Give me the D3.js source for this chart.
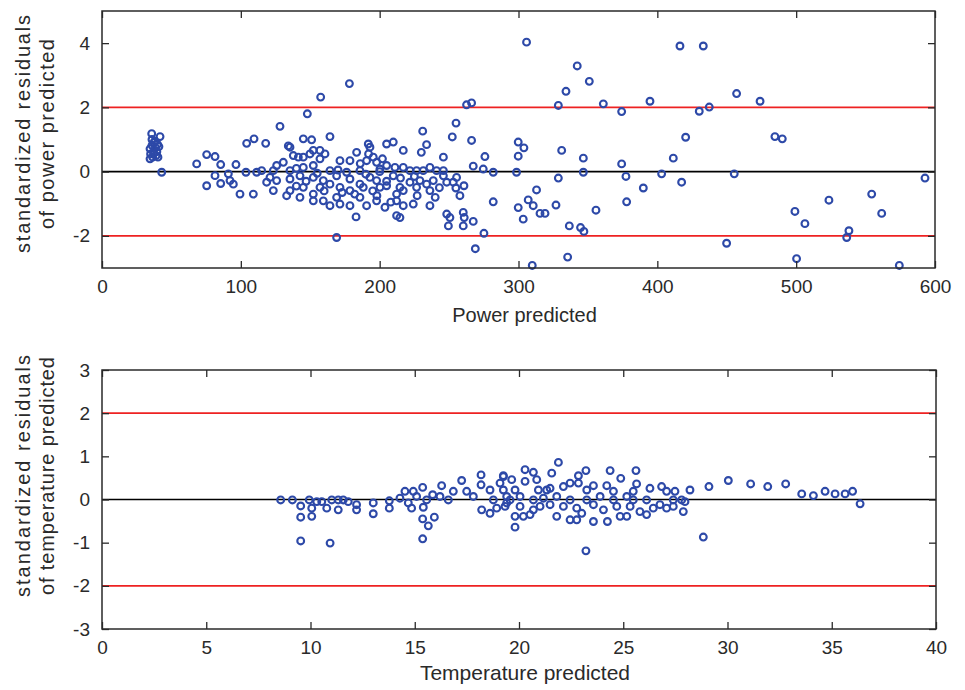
<!DOCTYPE html>
<html><head><meta charset="utf-8">
<script src="https://cdn.jsdelivr.net/npm/d3@7"></script>
<style>body{margin:0;background:#fff}svg{display:block}</style>
</head><body>
<script>
// ---------- DATA ----------
const powerX = [
35.8,41.8,34.6,36,37.5,38.5,40,35,37,39.5,41,34.6,36.5,40.3,38,43,36,39,
68.2,75.4,81.4,85.5,75.4,81.4,85.5,91,92.2,94.6,96.5,99.4,104.2,109.5,103.7,109,117.9,111.4,115,118.6,
128.2,145,151,164.2,134.2,135.4,152.2,157,160.6,183.4,191.8,193,205,209.8,217,231,233.8,245.9,
137.8,141.4,145,149.8,157,130.6,125.8,171.4,178.6,190.6,195.4,197.8,205,211,221.8,226.6,231.4,236.2,241,245.9,
123.4,135.4,145,152.2,164.2,176.2,185.8,200.2,217,
121,125.8,135.4,142.6,152.2,159.4,169,178.6,185.8,193,197.8,209.8,214.6,221.8,229,233.8,238.6,245.9,248.3,
123.4,135.4,145,157,164.2,171.4,178.6,188.2,200.2,205,217,226.6,236.2,
133,142.6,152.2,159.4,164.2,169,171.4,178.6,185.8,190.6,197.8,203.8,212.2,212.2,217,224.2,236.2,152.2,
183,212.2,214.6,248.3,249.5,169,
140,155,170,190,200,205,215,225,195,198,182,173,160,147,140,208,192,186,202,230,227,240,243,
178.2,157.5,147.9,
305.8,342.3,351,334.2,262.6,266.2,328.7,361.1,374.3,394.7,255,252.3,266.2,299.8,303.9,299.8,331.1,346.7,374.3,377.4,
389.9,377.9,355.8,346.7,328.7,313,327,307,310.6,299.8,303.4,315.5,319.1,336.6,344.7,347.1,275.1,268.9,335.4,309.9,
281.8,275.8,267.4,274.6,281.8,298.6,260.7,254.9,257.8,260.2,260.9,250.6,260.2,267.4,255.4,253,
416.3,433.1,457.1,474,430.2,437.4,420.4,484.7,490,411.5,403.1,417.5,455.4,592.8,554.4,523.6,561.6,499.1,506.3,538,536.4,449.9,500.3,574.3
];
const powerResid = [
1.18,1.09,0.71,0.82,0.9,0.75,0.85,0.55,0.6,0.62,0.78,0.4,0.45,0.45,0.95,-0.02,1.0,0.5,
0.24,0.53,0.47,0.22,-0.44,-0.125,-0.37,-0.07,-0.28,-0.39,0.22,-0.70,0.88,1.02,-0.02,-0.70,0.88,-0.02,0.03,-0.33,
1.41,1.02,0.99,1.09,0.80,0.76,0.66,0.66,0.55,0.60,0.86,0.76,0.86,0.92,0.66,1.26,0.84,0.45,
0.50,0.45,0.45,0.55,0.40,0.29,0.19,0.34,0.34,0.34,0.45,0.29,0.19,0.13,0.03,0.03,0.03,0.13,0.03,0.03,
0.03,0.03,0.13,0.19,0.03,-0.02,0.03,0.08,0.13,
-0.18,-0.28,-0.23,-0.13,-0.18,-0.28,-0.13,-0.23,-0.39,-0.18,-0.28,-0.13,-0.49,-0.33,-0.28,-0.39,-0.28,-0.13,-0.33,
-0.59,-0.59,-0.49,-0.49,-0.39,-0.49,-0.59,-0.49,-0.49,-0.44,-0.59,-0.49,-0.59,
-0.75,-0.80,-0.70,-0.91,-1.06,-0.80,-1.01,-1.06,-0.80,-1.06,-0.91,-1.11,-0.70,-0.91,-1.06,-1.01,-1.06,-0.91,
-1.41,-1.37,-1.43,-1.32,-1.69,-2.05,
0.1,-0.05,0.05,-0.08,0.0,-0.3,-0.2,-0.15,-0.6,-0.75,-0.7,-0.65,-0.6,-0.3,-0.45,-0.95,0.55,0.25,0.4,0.6,-0.75,-0.8,-0.5,
2.74,2.32,1.80,
4.03,3.29,2.81,2.50,2.08,2.14,2.06,2.11,1.87,2.19,1.51,1.08,0.97,0.92,0.74,0.48,0.66,0.42,0.24,-0.15,
-0.51,-0.94,-1.20,-0.02,-0.20,-0.57,-1.04,-0.88,-1.06,-1.12,-1.48,-1.30,-1.30,-1.69,-1.74,-1.86,-1.92,-2.40,-2.66,-2.92,
-0.94,0.47,0.17,0.08,-0.02,-0.02,-0.44,-0.51,-0.75,-1.27,-1.43,-1.43,-1.69,-1.55,-0.18,-0.33,
3.91,3.91,2.43,2.19,1.88,2.01,1.07,1.09,1.02,0.42,-0.07,-0.33,-0.07,-0.20,-0.70,-0.89,-1.30,-1.24,-1.62,-1.84,-2.05,-2.23,-2.71,-2.92
];
const tempX = [
8.57,9.13,9.53,9.53,9.53,9.94,10.06,10.06,10.3,10.54,10.78,11.02,11.33,11.33,11.57,11.81,12.21,12.21,10.94,
13.01,13.01,13.78,13.78,14.53,14.93,15.38,14.85,15.41,15.38,15.65,15.94,15.38,16.29,
15.86,16.21,16.61,16.85,17.25,17.49,17.81,18.18,18.18,18.61,18.77,19.09,19.25,19.41,18.21,18.61,18.93,19.33,
14.29,15.09,15.57,14.69,
19.25,19.65,19.25,19.41,19.81,19.81,20.21,20.29,20.69,20.29,20.85,20.93,20.53,21.57,21.89,21.49,22.13,22.45,22.85,22.85,
23.21,23.57,23.57,23.21,24.21,24.24,24.37,24.88,25.61,25.64,26.28,26.84,27.08,27.48,27.8,27.96,28.2,27.88,28.84,
29.11,30.04,31.11,31.93,32.79,33.56,34.12,34.68,35.16,35.64,36.0,36.36,
19.57,20.05,20.05,20.69,21.01,21.17,21.49,21.81,22.13,22.45,22.77,23.01,23.25,23.57,23.89,24.05,24.53,24.69,24.85,
25.17,25.33,25.48,25.8,26.12,26.44,26.76,27.08,27.4,27.4,20.69,21.81,22.45,19.81,21.33,23.25,24.53,25.48,22.77,26.12,25.17
];
const tempResid = [
-0.01,-0.01,-0.15,-0.41,-0.96,-0.01,-0.20,-0.39,-0.05,-0.05,-0.20,-0.01,-0.01,-0.24,-0.01,-0.05,-0.12,-0.24,-1.01,
-0.08,-0.33,-0.03,-0.20,0.19,0.19,0.28,-0.20,-0.18,-0.45,-0.61,-0.41,-0.91,0.32,
0.11,0.07,-0.01,0.19,0.44,0.19,0.07,0.57,0.34,0.22,-0.01,0.38,0.55,0.07,-0.24,-0.32,-0.20,-0.16,
0.03,0.07,-0.01,-0.08,
0.53,0.46,0.22,-0.08,-0.39,-0.64,-0.39,0.69,0.63,0.42,0.46,0.22,-0.35,0.61,0.86,0.26,0.30,0.38,0.38,0.55,
0.67,0.32,-0.51,-1.19,0.32,-0.51,0.67,0.49,0.67,0.36,0.26,0.30,0.19,0.19,-0.01,-0.05,0.22,-0.28,-0.87,
0.30,0.44,0.36,0.30,0.36,0.13,0.09,0.19,0.13,0.13,0.19,-0.10,
-0.01,0.07,-0.16,-0.01,-0.16,0.03,-0.12,0.07,-0.16,-0.01,-0.20,-0.32,-0.01,-0.12,0.07,-0.24,-0.01,-0.16,-0.39,
0.07,-0.16,-0.01,-0.28,-0.01,-0.20,-0.12,-0.20,-0.16,-0.01,-0.24,-0.39,-0.47,0.22,0.22,0.22,0.19,0.19,-0.47,-0.35,-0.39
];
const powerXTicks = [0,100,200,300,400,500,600];
const powerYTicks = [-2,0,2,4];
const tempXTicks = [0,5,10,15,20,25,30,35,40];
const tempYTicks = [-3,-2,-1,0,1,2,3];
const limitLines = [-2,2];

// ---------- DRAW ----------
const W = 965, H = 690;
const svg = d3.select("body").append("svg").attr("width", W).attr("height", H);
const FONT = "'Liberation Sans', Arial, sans-serif";
const INK = "#2a2a2a";
const MARK = "#2d49a8";
const fmt = d => String(d);

function panel(cfg) {
  const x = d3.scaleLinear().domain(cfg.xDomain).range([cfg.left, cfg.right]);
  const y = d3.scaleLinear().domain(cfg.yDomain).range([cfg.bottom, cfg.top]);
  const g = svg.append("g");

  // reference lines
  g.selectAll("line.lim").data(limitLines).join("line")
    .attr("x1", cfg.left).attr("x2", cfg.right)
    .attr("y1", d => y(d)).attr("y2", d => y(d))
    .attr("stroke", "#ee2222").attr("stroke-width", 1.6);
  g.append("line").attr("x1", cfg.left).attr("x2", cfg.right)
    .attr("y1", y(0)).attr("y2", y(0)).attr("stroke", "#000").attr("stroke-width", 1.6);

  // points
  g.selectAll("circle").data(cfg.xs.map((v, i) => [v, cfg.ys[i]])).join("circle")
    .attr("cx", d => x(d[0])).attr("cy", d => y(d[1])).attr("r", 3.4)
    .attr("fill", "none").attr("stroke", MARK).attr("stroke-width", 2.1);

  // axes with inward ticks
  const style = sel => {
    sel.select(".domain").remove();
    sel.selectAll(".tick line").attr("stroke", INK).attr("stroke-width", 1.3);
    sel.selectAll(".tick text").attr("fill", INK).style("font-family", FONT).style("font-size", "19px");
  };
  g.append("g").attr("transform", `translate(0,${cfg.bottom})`)
    .call(d3.axisBottom(x).tickValues(cfg.xTicks).tickSizeInner(-7).tickSizeOuter(0).tickPadding(12).tickFormat(fmt))
    .call(style);
  g.append("g").attr("transform", `translate(0,${cfg.top})`)
    .call(d3.axisTop(x).tickValues(cfg.xTicks).tickSizeInner(-7).tickSizeOuter(0).tickFormat(""))
    .call(style);
  g.append("g").attr("transform", `translate(${cfg.left},0)`)
    .call(d3.axisLeft(y).tickValues(cfg.yTicks).tickSizeInner(-7).tickSizeOuter(0).tickPadding(12).tickFormat(fmt))
    .call(style);
  g.append("g").attr("transform", `translate(${cfg.right},0)`)
    .call(d3.axisRight(y).tickValues(cfg.yTicks).tickSizeInner(-7).tickSizeOuter(0).tickFormat(""))
    .call(style);

  // frame
  g.append("rect").attr("x", cfg.left).attr("y", cfg.top)
    .attr("width", cfg.right - cfg.left).attr("height", cfg.bottom - cfg.top)
    .attr("fill", "none").attr("stroke", INK).attr("stroke-width", 1.5);

  // x label
  g.append("text").attr("x", (cfg.left + cfg.right) / 2 + 6).attr("y", cfg.bottom + cfg.xLabelDy)
    .attr("text-anchor", "middle").attr("fill", INK)
    .style("font-family", FONT).style("font-size", cfg.xLabelSize)
    .text(cfg.xLabel);
  // y label (two lines)
  const yc = cfg.yLabelCenter;
  cfg.yLabel.forEach((t, i) => {
    g.append("text")
      .attr("transform", `translate(${cfg.yLabelX[i]},${yc}) rotate(-90)`)
      .attr("text-anchor", "middle").attr("fill", INK)
      .style("font-family", FONT).style("font-size", "20px")
      .attr("textLength", cfg.yLabelLen[i]).attr("lengthAdjust", "spacing")
      .text(t);
  });
}

panel({
  xs: powerX, ys: powerResid,
  xDomain: [0, 600], yDomain: [-3, 5],
  left: 102, right: 935, top: 11, bottom: 268,
  xTicks: powerXTicks, yTicks: powerYTicks,
  xLabel: "Power predicted", xLabelDy: 54, xLabelSize: "20px",
  yLabel: ["standardized residuals", "of power predicted"],
  yLabelX: [30, 54], yLabelCenter: 134, yLabelLen: [238, 190]
});
panel({
  xs: tempX, ys: tempResid,
  xDomain: [0, 40], yDomain: [-3, 3],
  left: 102, right: 936, top: 370, bottom: 629,
  xTicks: tempXTicks, yTicks: tempYTicks,
  xLabel: "Temperature predicted", xLabelDy: 51, xLabelSize: "21px",
  yLabel: ["standardized residuals", "of temperature  predicted"],
  yLabelX: [30, 54], yLabelCenter: 476, yLabelLen: [242, 238]
});
</script>
</body></html>
